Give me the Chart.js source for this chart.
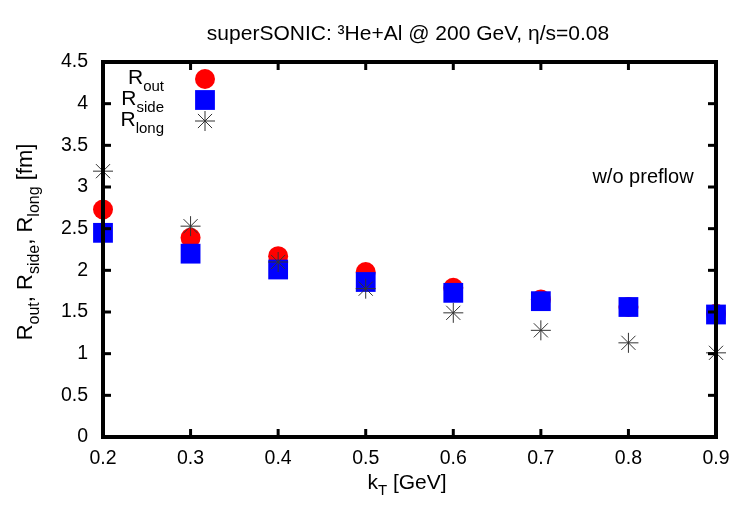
<!DOCTYPE html>
<html><head><meta charset="utf-8">
<script src="https://cdn.jsdelivr.net/npm/chart.js@4"></script>
<style>html,body{margin:0;padding:0;background:#fff}</style>
</head><body>
<canvas id="c" width="750" height="525"></canvas>
<script>
const kT = [0.2, 0.3, 0.4, 0.5, 0.6, 0.7, 0.8, 0.9];
const Rout = [2.73, 2.39, 2.17, 1.98, 1.79, 1.65, 1.56, 1.48];
const Rside = [2.45, 2.20, 2.01, 1.86, 1.73, 1.63, 1.56, 1.47];
const Rlong = [3.19, 2.53, 2.10, 1.78, 1.49, 1.28, 1.13, 1.01];
const xTicks = [0.2, 0.3, 0.4, 0.5, 0.6, 0.7, 0.8, 0.9];
const xTickLabels = ['0.2', '0.3', '0.4', '0.5', '0.6', '0.7', '0.8', '0.9'];
const yTicks = [0, 0.5, 1, 1.5, 2, 2.5, 3, 3.5, 4, 4.5];
const yTickLabels = ['0', '0.5', '1', '1.5', '2', '2.5', '3', '3.5', '4', '4.5'];
const seriesSubs = ['out', 'side', 'long'];
const titleText = 'superSONIC: \u00B3He+Al @ 200 GeV, \u03B7/s=0.08';
const noteText = 'w/o preflow';

const FONT = '"Liberation Sans", Arial, sans-serif';
const pts = (ys) => kT.map((x, i) => ({x: x, y: ys[i]}));

// draw a sequence of [text, isSub] runs
function runs(ctx, parts, x, y, align, size, subSize, subDy) {
  let total = 0;
  parts.forEach(p => { ctx.font = (p[1] ? subSize : size) + 'px ' + FONT; total += ctx.measureText(p[0]).width; });
  let cx = align === 'right' ? x - total : (align === 'center' ? x - total / 2 : x);
  ctx.textAlign = 'left';
  ctx.textBaseline = 'alphabetic';
  parts.forEach(p => {
    ctx.font = (p[1] ? subSize : size) + 'px ' + FONT;
    ctx.fillText(p[0], cx, y + (p[1] ? subDy : 0));
    cx += ctx.measureText(p[0]).width;
  });
  return total;
}

const deco = {
  id: 'deco',
  afterDatasetsDraw(chart) {
    const {ctx, chartArea: a, scales: {x, y}} = chart;
    ctx.save();
    ctx.strokeStyle = '#000';
    ctx.lineWidth = 3;
    const ln = (x1, y1, x2, y2) => { ctx.beginPath(); ctx.moveTo(x1, y1); ctx.lineTo(x2, y2); ctx.stroke(); };
    xTicks.forEach(v => { const p = x.getPixelForValue(v); ln(p, a.bottom, p, a.bottom - 8); ln(p, a.top, p, a.top + 8); });
    yTicks.forEach(v => { const p = y.getPixelForValue(v); ln(a.left, p, a.left + 8, p); ln(a.right, p, a.right - 8, p); });
    ctx.lineWidth = 4;
    ctx.strokeRect(a.left, a.top, a.right - a.left, a.bottom - a.top);
    ctx.restore();
  },
  afterDraw(chart) {
    const {ctx} = chart;
    ctx.save();
    ctx.fillStyle = '#000';
    // title
    ctx.font = '21px ' + FONT;
    ctx.textAlign = 'center';
    ctx.textBaseline = 'alphabetic';
    ctx.fillText(titleText, 408, 40);
    // note
    ctx.font = '20px ' + FONT;
    ctx.fillText(noteText, 643, 183);
    // x title
    runs(ctx, [['k', 0], ['T', 1], [' [GeV]', 0]], 407, 489, 'center', 21, 15, 6);
    // y title
    ctx.save();
    ctx.translate(32, 242);
    ctx.rotate(-Math.PI / 2);
    runs(ctx, [['R', 0], ['out', 1], [', ', 0], ['R', 0], ['side', 1], [', ', 0], ['R', 0], ['long', 1], [' [fm]', 0]], 0, 0, 'center', 22, 16, 7);
    ctx.restore();
    // legend
    const ys = [79, 100, 121];
    chart.data.datasets.forEach((ds, i) => {
      ctx.fillStyle = '#000';
      runs(ctx, [['R', 0], [seriesSubs[i], 1]], 164, ys[i] + 5, 'right', 21, 15, 7);
      ctx.fillStyle = ds.backgroundColor;
      ctx.strokeStyle = ds.borderColor;
      ctx.lineWidth = ds.borderWidth;
      Chart.helpers.drawPoint(ctx, {pointStyle: ds.pointStyle, radius: ds.pointRadius, borderWidth: ds.borderWidth, rotation: 0}, 205, ys[i]);
    });
    ctx.restore();
  }
};

new Chart(document.getElementById('c'), {
  type: 'scatter',
  data: {
    datasets: [
      {label: 'Rout', data: pts(Rout), pointStyle: 'circle', pointRadius: 10, backgroundColor: '#ff0000', borderColor: '#ff0000', borderWidth: 0, order: 3, clip: false},
      {label: 'Rside', data: pts(Rside), pointStyle: 'rect', pointRadius: 14, backgroundColor: '#0000ff', borderColor: '#0000ff', borderWidth: 0, order: 2, clip: false},
      {label: 'Rlong', data: pts(Rlong), pointStyle: 'star', pointRadius: 10, backgroundColor: 'rgba(0,0,0,0)', borderColor: '#333333', borderWidth: 1, order: 1, clip: false}
    ]
  },
  options: {
    responsive: false,
    animation: false,
    layout: {padding: {left: 0, top: 62, right: 34, bottom: 0}},
    plugins: {legend: {display: false}, tooltip: {enabled: false}, title: {display: false}},
    scales: {
      x: {
        type: 'linear', min: 0.2, max: 0.9,
        grid: {display: false, drawTicks: false}, border: {display: false},
        afterBuildTicks: s => { s.ticks = xTicks.map(v => ({value: v})); },
        afterFit: s => { s.height = 88; },
        ticks: {color: '#000', font: {family: FONT, size: 19.5}, padding: 10, maxRotation: 0,
          callback: (v, i) => xTickLabels[i]}
      },
      y: {
        type: 'linear', min: 0, max: 4.5,
        grid: {display: false, drawTicks: false}, border: {display: false},
        afterBuildTicks: s => { s.ticks = yTicks.map(v => ({value: v})); },
        afterFit: s => { s.width = 103; },
        ticks: {color: '#000', font: {family: FONT, size: 19.5}, padding: 15,
          callback: (v, i) => yTickLabels[i]}
      }
    }
  },
  plugins: [deco]
});
</script>
</body></html>
